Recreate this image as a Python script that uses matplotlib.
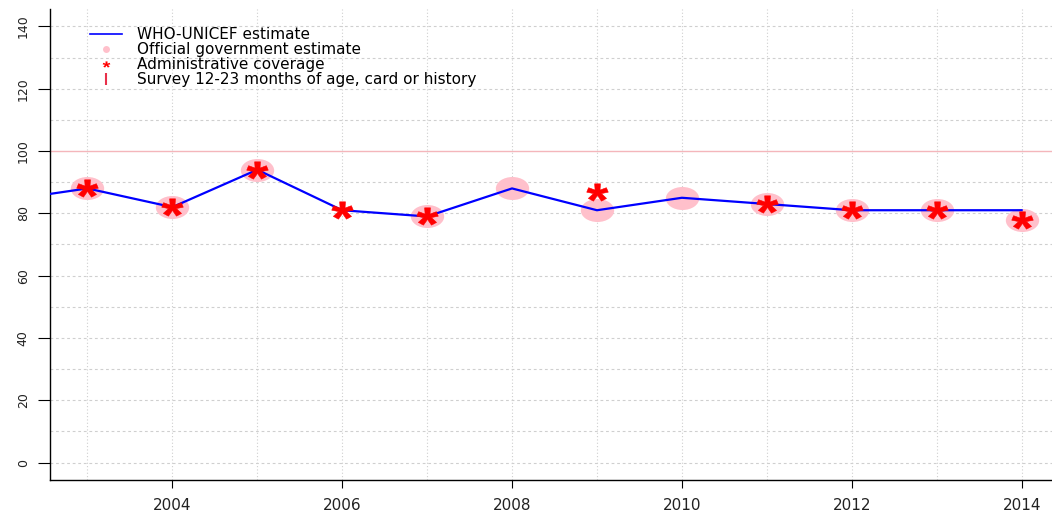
import numpy as np
import matplotlib
matplotlib.use("Agg")
import matplotlib.pyplot as plt
from matplotlib.lines import Line2D
from matplotlib.markers import MarkerStyle
from matplotlib.path import Path
from matplotlib.transforms import Affine2D
from matplotlib.textpath import TextPath
from matplotlib.font_manager import FontProperties

# data
wuenic_years = [2002, 2003, 2004, 2005, 2006, 2007, 2008, 2009, 2010, 2011, 2012, 2013, 2014]
wuenic = [84, 88, 82, 94, 81, 79, 88, 81, 85, 83, 81, 81, 81]

gov_years = [2003, 2004, 2005, 2007, 2008, 2009, 2010, 2011, 2012, 2013, 2014]
gov = [88, 82, 94, 79, 88, 81, 85, 83, 81, 81, 78]

admin_years = [2003, 2004, 2005, 2006, 2007, 2009, 2011, 2012, 2013, 2014]
admin = [88, 82, 94, 81, 79, 87, 83, 81, 81, 78]

xtick_years = [2004, 2006, 2008, 2010, 2012, 2014]
ytick_vals = [0, 20, 40, 60, 80, 100, 120, 140]

legend_labels = ["WHO-UNICEF estimate", "Official government estimate",
                 "Administrative coverage", "Survey 12-23 months of age, card or history"]

plt.rcParams['font.family'] = ['DejaVu Sans']

W, H = 1052, 513
fig = plt.figure(figsize=(W / 100, H / 100), dpi=100)
# axes runs off the right edge like the original
ax = fig.add_axes([50 / W, 33 / H, 1009 / W, 471 / H])
ax.set_xlim(2002.56, 2014.44)
ax.set_ylim(-5.6, 145.6)

# grid
for y in range(0, 150, 10):
    if y == 100:
        ax.axhline(y, color='#f4b6bb', lw=1.0, zorder=1)
    else:
        ax.axhline(y, color='#cfcfcf', lw=0.8, ls=(0, (2.5, 2.5)), zorder=1)
for x in range(2003, 2015):
    ax.axvline(x, color='#cfcfcf', lw=0.8, ls=(0, (1, 2)), zorder=1)

# stretched ellipse + asterisk glyph markers (the source image is wider than tall)
ellipse = MarkerStyle(Path.unit_circle().transformed(Affine2D().scale(1.45, 1.0)))
tp = TextPath((0, 0), '*', size=10, prop=FontProperties(family='Liberation Sans', weight='bold'))
ext = tp.get_extents()
cx, cy = (ext.x0 + ext.x1) / 2, (ext.y0 + ext.y1) / 2
verts = tp.vertices - [cx, cy]
verts[tp.codes == Path.CLOSEPOLY] = 0  # closing points would spoil the marker scaling
verts[:, 0] *= 1.2
star = MarkerStyle(Path(verts, tp.codes))

ax.plot(gov_years, gov, ls='none', marker=ellipse, ms=24, mfc='pink', mec='none', zorder=2)
ax.plot(wuenic_years, wuenic, color='#0000ff', lw=1.6, zorder=3)
ax.plot(admin_years, admin, ls='none', marker=star, ms=15.5, mfc='red', mec='red',
        mew=0.4, zorder=4)

ax.spines['top'].set_visible(False)
ax.spines['right'].set_visible(False)
ax.spines['left'].set_linewidth(1.0)
ax.spines['bottom'].set_linewidth(1.0)

ax.set_xticks(xtick_years)
ax.set_xticklabels([str(y) for y in xtick_years], fontsize=11, color='#222222')
ax.set_yticks(ytick_vals)
ax.set_yticklabels([str(v) for v in ytick_vals], fontsize=9, color='#222222',
                   rotation=90, va='center')
ax.tick_params(axis='x', length=6, pad=7)
ax.tick_params(axis='y', length=8.5, pad=6)

handles = [
    Line2D([], [], color='#0000ff', lw=1.2),
    Line2D([], [], ls='none', marker='o', ms=5, mfc='pink', mec='none'),
    Line2D([], [], ls='none', marker=star, ms=5.5, mfc='red', mec='none'),
    Line2D([], [], ls='none', marker='|', ms=9, mec='#e8304a', mew=1.5),
]
ax.legend(handles, legend_labels, loc='upper left',
          bbox_to_anchor=(90 / W, 1 - 27 / H), bbox_transform=fig.transFigure,
          frameon=False, fontsize=11, handlelength=2.1, handletextpad=1.0,
          labelspacing=0.0, borderpad=0, borderaxespad=0)

fig.savefig("out.png", dpi=100)
